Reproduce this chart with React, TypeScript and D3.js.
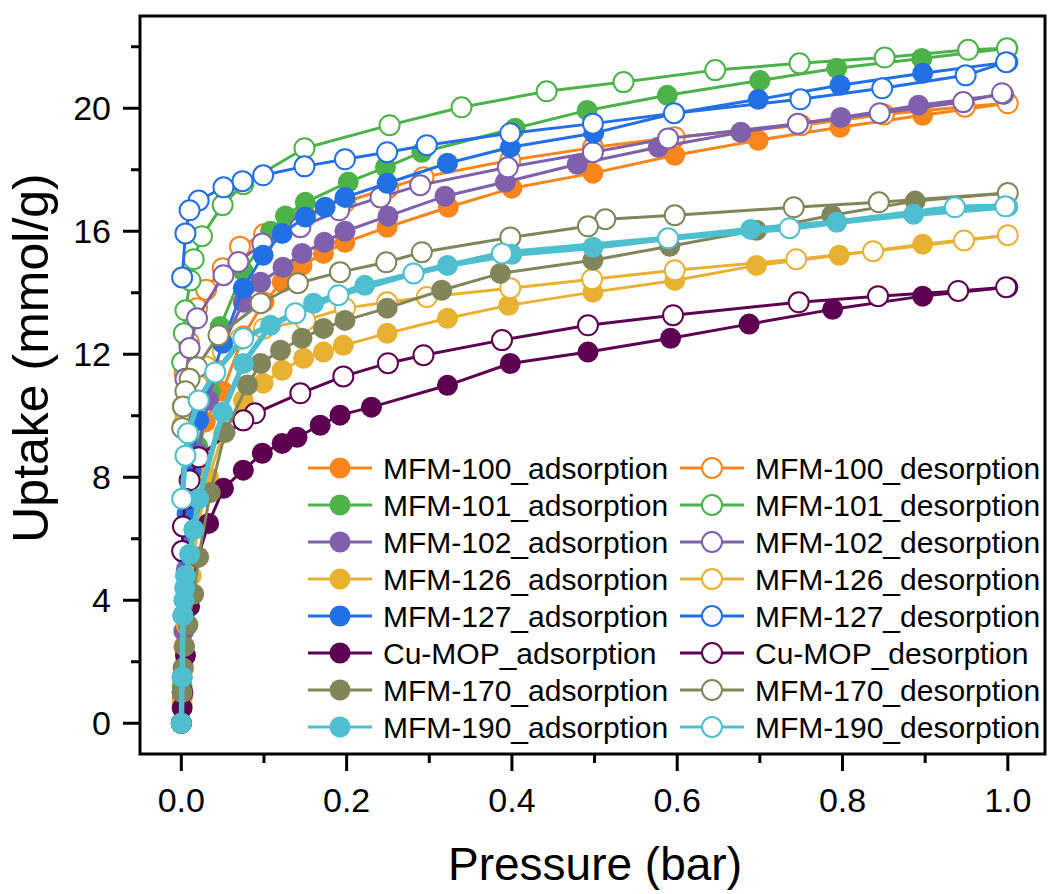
import React from "react";
import * as d3 from "d3";

// ---- Data (pressure in bar, uptake in mmol/g) ----
const mfm100AdsP = [0, 0.001, 0.003, 0.006, 0.011, 0.018, 0.029, 0.05, 0.075, 0.1, 0.122, 0.146, 0.172, 0.198, 0.249, 0.323, 0.4, 0.498, 0.597, 0.698, 0.797, 0.897, 1.0];
const mfm100AdsU = [0, 0.8, 2.5, 4.2, 6.5, 8.5, 9.8, 10.8, 12.6, 13.7, 14.34, 14.89, 15.28, 15.64, 16.13, 16.78, 17.4, 17.89, 18.47, 18.96, 19.38, 19.77, 20.16];
const mfm100DesP = [1.0, 0.948, 0.85, 0.75, 0.597, 0.498, 0.398, 0.293, 0.25, 0.198, 0.15, 0.1, 0.071, 0.05, 0.03, 0.019, 0.009, 0.004];
const mfm100DesU = [20.16, 20.05, 19.8, 19.45, 19.06, 18.72, 18.31, 17.76, 17.4, 16.95, 16.5, 15.9, 15.5, 14.8, 14.1, 13.5, 12.4, 11.4];

const mfm101AdsP = [0, 0.001, 0.003, 0.006, 0.01, 0.02, 0.035, 0.047, 0.075, 0.108, 0.126, 0.15, 0.202, 0.247, 0.291, 0.404, 0.491, 0.588, 0.7, 0.793, 0.896, 1.0];
const mfm101AdsU = [0, 1.2, 3.5, 5.5, 7.2, 9.0, 10.8, 12.9, 14.7, 16.0, 16.5, 16.94, 17.6, 18.08, 18.57, 19.35, 19.93, 20.42, 20.9, 21.3, 21.62, 21.95];
const mfm101DesP = [0.999, 0.952, 0.851, 0.748, 0.646, 0.535, 0.442, 0.339, 0.252, 0.149, 0.075, 0.05, 0.025, 0.015, 0.011, 0.005, 0.003, 0.001];
const mfm101DesU = [21.95, 21.9, 21.65, 21.46, 21.24, 20.85, 20.55, 20.03, 19.45, 18.7, 17.53, 16.85, 15.84, 15.09, 14.4, 13.43, 12.68, 11.74];

const mfm102AdsP = [0, 0.001, 0.003, 0.006, 0.012, 0.02, 0.033, 0.05, 0.075, 0.096, 0.123, 0.146, 0.173, 0.198, 0.25, 0.319, 0.392, 0.479, 0.577, 0.677, 0.798, 0.892, 0.995];
const mfm102AdsU = [0, 1.0, 3.0, 5.0, 7.0, 8.8, 10.5, 12.3, 13.69, 14.34, 14.83, 15.28, 15.64, 16.0, 16.49, 17.14, 17.6, 18.18, 18.73, 19.22, 19.7, 20.1, 20.45];
const mfm102DesP = [0.993, 0.946, 0.845, 0.746, 0.589, 0.498, 0.395, 0.289, 0.241, 0.191, 0.144, 0.098, 0.069, 0.051, 0.019, 0.01, 0.005, 0.002];
const mfm102DesU = [20.49, 20.2, 19.84, 19.5, 19.02, 18.57, 18.08, 17.5, 17.1, 16.68, 16.13, 15.6, 15.0, 14.57, 13.17, 12.2, 11.2, 10.3];

const mfm126AdsP = [0, 0.001, 0.003, 0.006, 0.012, 0.02, 0.033, 0.051, 0.075, 0.099, 0.122, 0.148, 0.172, 0.196, 0.249, 0.322, 0.396, 0.498, 0.597, 0.696, 0.796, 0.897, 1.0];
const mfm126AdsU = [0, 0.6, 1.8, 3.2, 4.8, 6.4, 8.0, 9.43, 10.5, 11.06, 11.48, 11.87, 12.07, 12.29, 12.68, 13.17, 13.59, 14.02, 14.4, 14.89, 15.22, 15.58, 15.87];
const mfm126DesP = [1.0, 0.947, 0.837, 0.744, 0.597, 0.497, 0.398, 0.297, 0.249, 0.198, 0.15, 0.1, 0.071, 0.05, 0.03, 0.02, 0.01, 0.005, 0.002];
const mfm126DesU = [15.87, 15.7, 15.35, 15.09, 14.73, 14.44, 14.15, 13.86, 13.69, 13.5, 13.1, 12.84, 12.5, 12.1, 11.6, 11.0, 10.4, 10.0, 9.7];

const mfm127AdsP = [0, 0.001, 0.002, 0.004, 0.007, 0.012, 0.021, 0.05, 0.075, 0.099, 0.122, 0.15, 0.174, 0.198, 0.249, 0.322, 0.398, 0.499, 0.597, 0.698, 0.797, 0.897, 1.0];
const mfm127AdsU = [0, 1.5, 3.5, 5.5, 6.8, 8.2, 9.85, 12.36, 14.15, 15.22, 15.93, 16.46, 16.78, 17.1, 17.56, 18.21, 18.73, 19.19, 19.84, 20.29, 20.75, 21.14, 21.5];
const mfm127DesP = [0.998, 0.949, 0.848, 0.749, 0.596, 0.498, 0.398, 0.297, 0.249, 0.198, 0.149, 0.099, 0.074, 0.051, 0.021, 0.01, 0.005, 0.001];
const mfm127DesU = [21.5, 21.07, 20.65, 20.29, 19.84, 19.5, 19.19, 18.8, 18.57, 18.34, 18.11, 17.82, 17.63, 17.43, 17.0, 16.68, 15.93, 14.5];

const cuMopAdsP = [0, 0.001, 0.002, 0.005, 0.01, 0.02, 0.033, 0.051, 0.075, 0.098, 0.122, 0.14, 0.168, 0.192, 0.23, 0.322, 0.398, 0.492, 0.592, 0.687, 0.788, 0.897, 1.0];
const cuMopAdsU = [0, 0.5, 1.0, 2.2, 3.8, 5.4, 6.5, 7.64, 8.23, 8.78, 9.1, 9.3, 9.69, 10.02, 10.28, 10.99, 11.7, 12.07, 12.52, 12.98, 13.46, 13.89, 14.18];
const cuMopDesP = [0.998, 0.94, 0.843, 0.747, 0.595, 0.492, 0.388, 0.293, 0.25, 0.196, 0.144, 0.089, 0.075, 0.021, 0.01, 0.005, 0.002, 0.001];
const cuMopDesU = [14.18, 14.06, 13.89, 13.69, 13.27, 12.94, 12.46, 11.97, 11.71, 11.28, 10.73, 10.08, 9.85, 8.65, 7.9, 7.3, 6.4, 5.6];

const mfm170AdsP = [0, 0.001, 0.002, 0.004, 0.008, 0.015, 0.021, 0.035, 0.053, 0.08, 0.096, 0.12, 0.146, 0.172, 0.198, 0.249, 0.315, 0.386, 0.498, 0.591, 0.696, 0.787, 0.888, 1.0];
const mfm170AdsU = [0, 1.0, 1.8, 2.5, 3.2, 4.2, 5.4, 7.5, 9.46, 11.0, 11.7, 12.13, 12.52, 12.84, 13.1, 13.5, 14.08, 14.63, 15.06, 15.51, 16.03, 16.52, 16.98, 17.24];
const mfm170DesP = [1.0, 0.844, 0.741, 0.597, 0.513, 0.492, 0.398, 0.291, 0.248, 0.192, 0.141, 0.096, 0.045, 0.019, 0.01, 0.005, 0.002, 0.001];
const mfm170DesU = [17.24, 16.94, 16.78, 16.52, 16.39, 16.16, 15.8, 15.32, 14.99, 14.67, 14.31, 13.66, 12.62, 11.58, 11.2, 10.8, 10.3, 9.6];

const mfm190AdsP = [0, 0.001, 0.002, 0.003, 0.004, 0.005, 0.01, 0.015, 0.021, 0.05, 0.075, 0.108, 0.16, 0.222, 0.322, 0.4, 0.498, 0.588, 0.689, 0.793, 0.886, 1.0];
const mfm190AdsU = [0, 1.5, 3.5, 4.0, 4.4, 4.8, 5.5, 6.3, 7.3, 10.11, 11.7, 12.94, 13.66, 14.24, 14.89, 15.25, 15.48, 15.77, 16.06, 16.29, 16.55, 16.8];
const mfm190DesP = [0.997, 0.936, 0.736, 0.589, 0.388, 0.281, 0.19, 0.138, 0.075, 0.041, 0.021, 0.008, 0.005, 0.001];
const mfm190DesU = [16.81, 16.78, 16.1, 15.77, 15.28, 14.63, 13.92, 13.33, 12.52, 11.41, 10.5, 9.43, 8.7, 7.3];

const materials = ["MFM-100", "MFM-101", "MFM-102", "MFM-126", "MFM-127", "Cu-MOP", "MFM-170", "MFM-190"];
const colors = ["#F8861C", "#4CB24A", "#8060AB", "#E8B132", "#2270E4", "#5E0052", "#81865A", "#4FBFCF"];
const xTicks = [0, 0.2, 0.4, 0.6, 0.8, 1.0];
const xMinorTicks = [0.1, 0.3, 0.5, 0.7, 0.9];
const yTicks = [0, 4, 8, 12, 16, 20];
const yMinorTicks = [2, 6, 10, 14, 18, 22];

const adsP = [mfm100AdsP, mfm101AdsP, mfm102AdsP, mfm126AdsP, mfm127AdsP, cuMopAdsP, mfm170AdsP, mfm190AdsP];
const adsU = [mfm100AdsU, mfm101AdsU, mfm102AdsU, mfm126AdsU, mfm127AdsU, cuMopAdsU, mfm170AdsU, mfm190AdsU];
const desP = [mfm100DesP, mfm101DesP, mfm102DesP, mfm126DesP, mfm127DesP, cuMopDesP, mfm170DesP, mfm190DesP];
const desU = [mfm100DesU, mfm101DesU, mfm102DesU, mfm126DesU, mfm127DesU, cuMopDesU, mfm170DesU, mfm190DesU];

const W = 1048;
const H = 894;
const L = 140, R = 1045, T = 16, B = 754;
const FONT = "'Liberation Sans', Arial, sans-serif";

export default function App() {
  const x = d3.scaleLinear().domain([-0.05, 1.045]).range([L, R]);
  const y = d3.scaleLinear().domain([-1, 23]).range([B, T]);
  const line = d3.line<[number, number]>().x((d) => x(d[0])).y((d) => y(d[1]));

  const series: any[] = [];
  materials.forEach((m, i) => {
    series.push({ name: m + "_adsorption", color: colors[i], filled: true, pts: adsP[i].map((p, j) => [p, adsU[i][j]] as [number, number]), lw: m === "MFM-190" ? 5.5 : 3 });
    series.push({ name: m + "_desorption", color: colors[i], filled: false, pts: desP[i].map((p, j) => [p, desU[i][j]] as [number, number]), lw: m === "MFM-190" ? 5.5 : 3 });
  });

  const rFill = 10.5;
  const rOpen = 10;

  return (
    <svg width={W} height={H} style={{ position: "absolute", left: 0, top: 0, background: "#fff" }} fontFamily={FONT}>
      <rect x={0} y={0} width={W} height={H} fill="#fff" />
      <defs>
        <clipPath id="plotclip">
          <rect x={L} y={T} width={R - L} height={B - T} />
        </clipPath>
      </defs>
      <g clipPath="url(#plotclip)">
        {series.map((s, k) => (
          <g key={k}>
            <path d={line(s.pts) || ""} fill="none" stroke={s.color} strokeWidth={s.lw} strokeLinejoin="round" />
            {s.pts.map((p: [number, number], j: number) =>
              s.filled ? (
                <circle key={j} cx={x(p[0])} cy={y(p[1])} r={rFill} fill={s.color} />
              ) : (
                <circle key={j} cx={x(p[0])} cy={y(p[1])} r={rOpen} fill="#fff" stroke={s.color} strokeWidth={2} />
              )
            )}
          </g>
        ))}
      </g>

      {/* Legend */}
      {series.map((s, k) => {
        const col = k % 2;
        const row = Math.floor(k / 2);
        const x0 = col === 0 ? 308 : 680;
        const yc = 468 + row * 37;
        return (
          <g key={"lg" + k}>
            <line x1={x0} x2={x0 + 64} y1={yc} y2={yc} stroke={s.color} strokeWidth={3} />
            {s.filled ? (
              <circle cx={x0 + 32} cy={yc} r={rFill} fill={s.color} />
            ) : (
              <circle cx={x0 + 32} cy={yc} r={rOpen} fill="#fff" stroke={s.color} strokeWidth={2} />
            )}
            <text x={x0 + 75} y={yc + 10.5} fontSize={30} fill="#000">{s.name}</text>
          </g>
        );
      })}

      {/* Frame */}
      <rect x={L} y={T} width={R - L} height={B - T} fill="none" stroke="#000" strokeWidth={3} />

      {/* X axis ticks */}
      {xTicks.map((t) => (
        <g key={"xt" + t}>
          <line x1={x(t)} x2={x(t)} y1={B} y2={B + 17} stroke="#000" strokeWidth={3} />
          <text x={x(t)} y={812} fontSize={34} textAnchor="middle" fill="#000">{d3.format(".1f")(t)}</text>
        </g>
      ))}
      {xMinorTicks.map((t) => (
        <line key={"xm" + t} x1={x(t)} x2={x(t)} y1={B} y2={B + 9} stroke="#000" strokeWidth={3} />
      ))}

      {/* Y axis ticks */}
      {yTicks.map((t) => (
        <g key={"yt" + t}>
          <line x1={L} x2={L - 17} y1={y(t)} y2={y(t)} stroke="#000" strokeWidth={3} />
          <text x={111} y={y(t) + 12} fontSize={34} textAnchor="end" fill="#000">{t}</text>
        </g>
      ))}
      {yMinorTicks.map((t) => (
        <line key={"ym" + t} x1={L} x2={L - 9} y1={y(t)} y2={y(t)} stroke="#000" strokeWidth={3} />
      ))}

      {/* Axis titles */}
      <text x={595} y={880} fontSize={46} textAnchor="middle" fill="#000">Pressure (bar)</text>
      <text transform={`translate(48, 358) rotate(-90)`} fontSize={50} textAnchor="middle" fill="#000">Uptake (mmol/g)</text>
    </svg>
  );
}
